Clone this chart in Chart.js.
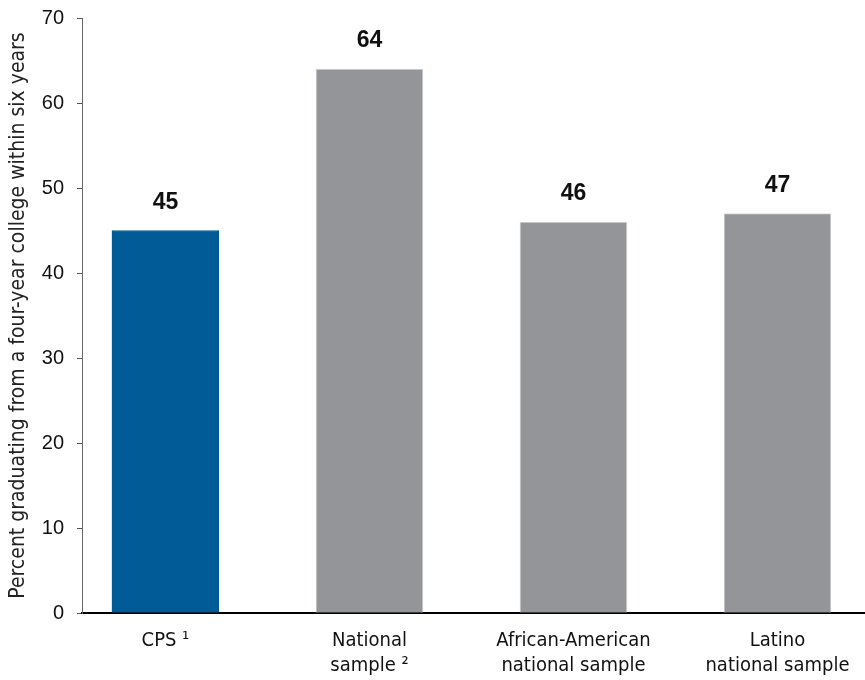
<!DOCTYPE html>
<html>
<head>
<meta charset="utf-8">
<script src="https://cdn.jsdelivr.net/npm/chart.js@4/dist/chart.umd.min.js"></script>
<style>
  html, body { margin: 0; padding: 0; background: #fff; }
  #wrap { width: 865px; height: 680px; }
</style>
</head>
<body>
<div id="wrap"><canvas id="chart"></canvas></div>
<script>
// ---------- DATA ----------
const categories = [
    ["CPS \u00b9"],
    ["National", "sample \u00b2"],
    ["African-American", "national sample"],
    ["Latino", "national sample"]
];
const values = [45, 64, 46, 47];
const barColors = ["#005b97", "#939598", "#939598", "#939598"];
const yTicks = [0, 10, 20, 30, 40, 50, 60, 70];
const yTitle = "Percent graduating from a four-year college within six years";

const NARROW = "'DejaVu Sans Condensed', sans-serif";
const SANS = "'Liberation Sans', Arial, sans-serif";

// ---------- VALUE LABELS ----------
const valueLabels = {
    id: "valueLabels",
    afterDatasetsDraw(chart) {
        const ctx = chart.ctx;
        const meta = chart.getDatasetMeta(0);
        ctx.save();
        ctx.font = "bold 23px " + SANS;
        ctx.fillStyle = "#111";
        ctx.textAlign = "center";
        ctx.textBaseline = "middle";
        meta.data.forEach((bar, i) => {
            ctx.fillText(values[i], bar.x, bar.y - 28);
        });
        ctx.restore();
    }
};

// ---------- CHART ----------
const ctx = document.getElementById("chart").getContext("2d");

new Chart(ctx, {
    type: "bar",
    data: {
        datasets: [{
            data: values.map((v, i) => ({ x: i, y: v })),
            backgroundColor: barColors,
            borderColor: barColors.map((c, i) => i === 0 ? c : "#d9dadb"),
            borderWidth: 1,
            barThickness: 107
        }]
    },
    options: {
        responsive: true,
        maintainAspectRatio: false,
        animation: false,
        layout: { padding: { top: 18, right: 0, left: 0, bottom: 0 } },
        plugins: {
            legend: { display: false },
            tooltip: { enabled: false }
        },
        scales: {
            x: {
                type: "linear",
                offset: false,
                min: -0.409,
                max: 3.429,
                afterBuildTicks: axis => {
                    axis.ticks = categories.map((_, i) => ({ value: i }));
                },
                afterFit: axis => {
                    axis.height = 67;
                    axis.paddingLeft = 0;
                    axis.paddingRight = 0;
                },
                grid: { drawOnChartArea: false, drawTicks: false },
                border: { color: "#000", width: 2 },
                ticks: {
                    padding: 15,
                    color: "#111",
                    font: { family: NARROW, size: 20, lineHeight: 1.25 },
                    maxRotation: 0,
                    autoSkip: false,
                    callback: (v) => categories[v] || ""
                }
            },
            y: {
                min: 0,
                max: 70,
                afterBuildTicks: axis => {
                    axis.ticks = yTicks.map(v => ({ value: v }));
                },
                afterFit: axis => {
                    axis.width = 82;
                    axis.paddingTop = 0;
                    axis.paddingBottom = 0;
                },
                grid: { drawOnChartArea: false, tickLength: 5, color: "#555" },
                border: { color: "#666", width: 1 },
                ticks: {
                    padding: 13,
                    color: "#111",
                    font: { family: SANS, size: 20 }
                },
                title: {
                    display: true,
                    text: yTitle,
                    color: "#222",
                    padding: { top: 6, bottom: 0 },
                    font: { family: NARROW, size: 21 }
                }
            }
        }
    },
    plugins: [valueLabels]
});
</script>
</body>
</html>
